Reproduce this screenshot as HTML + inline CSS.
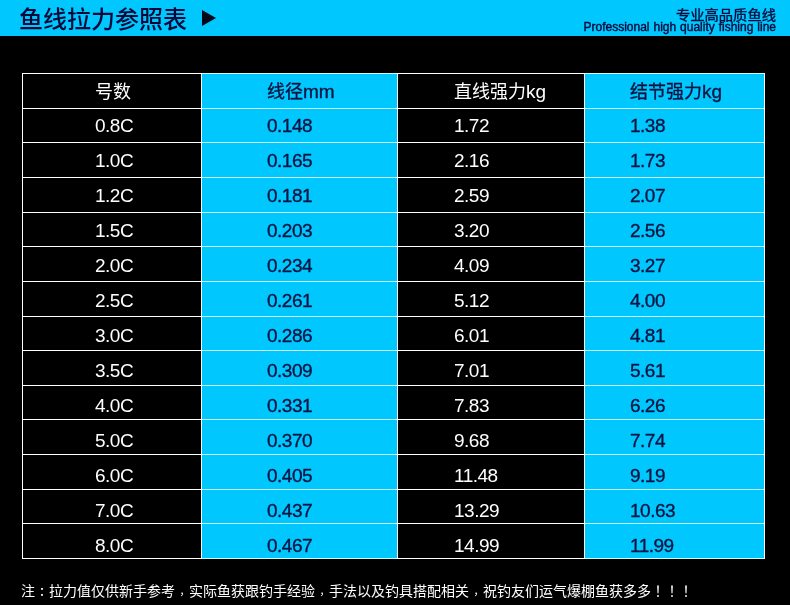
<!DOCTYPE html><html lang="zh-CN"><head><meta charset="utf-8"><title>鱼线拉力参照表</title><style>
*{margin:0;padding:0;box-sizing:border-box}
html,body{width:790px;height:605px;background:#000;overflow:hidden}
body{position:relative;font-family:"Liberation Sans","Noto Sans CJK SC",sans-serif}
.bar{position:absolute;left:0;top:0;width:790px;height:36px;background:#00c8ff}
.title{position:absolute;font-weight:500;left:19px;top:2px;font-size:24px;line-height:32px;color:#04093a;font-family:"Noto Sans CJK SC",sans-serif;white-space:nowrap}
.tri{position:absolute;left:202px;top:10px;width:0;height:0;border-top:8px solid transparent;border-bottom:8px solid transparent;border-left:14px solid #050818}
.zh{position:absolute;right:14px;top:5.5px;font-size:14.3px;line-height:16px;color:#04093a;white-space:nowrap;font-family:"Noto Sans CJK SC",sans-serif;-webkit-text-stroke:0.35px #04093a;transform:scaleY(0.92);transform-origin:50% 50%}
.en{position:absolute;right:14px;top:20px;font-size:12px;line-height:14px;letter-spacing:0px;word-spacing:0.6px;color:#04093a;white-space:nowrap;-webkit-text-stroke:0.4px #04093a}
.bcol{position:absolute;background:#00c8ff}
.h{position:absolute;height:1px;background:#fff}
.v{position:absolute;width:1px;background:#fff}
.c{position:absolute;font-size:19px;line-height:20px;height:20px;letter-spacing:-0.5px;white-space:nowrap}
.c .k{font-size:18px;letter-spacing:0;font-family:"Noto Sans CJK SC",sans-serif}
.w{color:#fff}
.n{color:#0a1340;-webkit-text-stroke:0.35px #0a1340}
.note{position:absolute;left:21px;top:582px;font-size:14px;line-height:16px;color:#fff;white-space:nowrap;font-family:"Noto Sans CJK SC",sans-serif}
.note .p{font-family:"Noto Sans CJK TC",sans-serif;display:inline-block}
.note .cm{transform:translateY(3.5px) scale(0.75)}
.note .cl{transform:translateY(1px) scaleY(0.85)}
</style></head><body>
<div class="bar"></div>
<div class="title">鱼线拉力参照表</div><div class="tri"></div>
<div class="zh">专业高品质鱼线</div><div class="en">Professional high quality fishing line</div>
<div class="bcol" style="left:201px;top:73px;width:196px;height:485px"></div>
<div class="bcol" style="left:584px;top:73px;width:180px;height:485px"></div>
<div class="h" style="left:22px;top:73px;width:180px;background:#fff"></div>
<div class="h" style="left:201px;top:73px;width:197px;background:#c8ffff"></div>
<div class="h" style="left:397px;top:73px;width:188px;background:#fff"></div>
<div class="h" style="left:584px;top:73px;width:181px;background:#c8ffff"></div>
<div class="h" style="left:22px;top:108px;width:180px;background:#fff"></div>
<div class="h" style="left:201px;top:108px;width:197px;background:#c8ffff"></div>
<div class="h" style="left:397px;top:108px;width:188px;background:#fff"></div>
<div class="h" style="left:584px;top:108px;width:181px;background:#c8ffff"></div>
<div class="h" style="left:22px;top:142px;width:180px;background:#fff"></div>
<div class="h" style="left:201px;top:142px;width:197px;background:#c8ffff"></div>
<div class="h" style="left:397px;top:142px;width:188px;background:#fff"></div>
<div class="h" style="left:584px;top:142px;width:181px;background:#c8ffff"></div>
<div class="h" style="left:22px;top:177px;width:180px;background:#fff"></div>
<div class="h" style="left:201px;top:177px;width:197px;background:#c8ffff"></div>
<div class="h" style="left:397px;top:177px;width:188px;background:#fff"></div>
<div class="h" style="left:584px;top:177px;width:181px;background:#c8ffff"></div>
<div class="h" style="left:22px;top:212px;width:180px;background:#fff"></div>
<div class="h" style="left:201px;top:212px;width:197px;background:#c8ffff"></div>
<div class="h" style="left:397px;top:212px;width:188px;background:#fff"></div>
<div class="h" style="left:584px;top:212px;width:181px;background:#c8ffff"></div>
<div class="h" style="left:22px;top:246px;width:180px;background:#fff"></div>
<div class="h" style="left:201px;top:246px;width:197px;background:#c8ffff"></div>
<div class="h" style="left:397px;top:246px;width:188px;background:#fff"></div>
<div class="h" style="left:584px;top:246px;width:181px;background:#c8ffff"></div>
<div class="h" style="left:22px;top:281px;width:180px;background:#fff"></div>
<div class="h" style="left:201px;top:281px;width:197px;background:#c8ffff"></div>
<div class="h" style="left:397px;top:281px;width:188px;background:#fff"></div>
<div class="h" style="left:584px;top:281px;width:181px;background:#c8ffff"></div>
<div class="h" style="left:22px;top:316px;width:180px;background:#fff"></div>
<div class="h" style="left:201px;top:316px;width:197px;background:#c8ffff"></div>
<div class="h" style="left:397px;top:316px;width:188px;background:#fff"></div>
<div class="h" style="left:584px;top:316px;width:181px;background:#c8ffff"></div>
<div class="h" style="left:22px;top:350px;width:180px;background:#fff"></div>
<div class="h" style="left:201px;top:350px;width:197px;background:#c8ffff"></div>
<div class="h" style="left:397px;top:350px;width:188px;background:#fff"></div>
<div class="h" style="left:584px;top:350px;width:181px;background:#c8ffff"></div>
<div class="h" style="left:22px;top:385px;width:180px;background:#fff"></div>
<div class="h" style="left:201px;top:385px;width:197px;background:#c8ffff"></div>
<div class="h" style="left:397px;top:385px;width:188px;background:#fff"></div>
<div class="h" style="left:584px;top:385px;width:181px;background:#c8ffff"></div>
<div class="h" style="left:22px;top:419px;width:180px;background:#fff"></div>
<div class="h" style="left:201px;top:419px;width:197px;background:#c8ffff"></div>
<div class="h" style="left:397px;top:419px;width:188px;background:#fff"></div>
<div class="h" style="left:584px;top:419px;width:181px;background:#c8ffff"></div>
<div class="h" style="left:22px;top:454px;width:180px;background:#fff"></div>
<div class="h" style="left:201px;top:454px;width:197px;background:#c8ffff"></div>
<div class="h" style="left:397px;top:454px;width:188px;background:#fff"></div>
<div class="h" style="left:584px;top:454px;width:181px;background:#c8ffff"></div>
<div class="h" style="left:22px;top:489px;width:180px;background:#fff"></div>
<div class="h" style="left:201px;top:489px;width:197px;background:#c8ffff"></div>
<div class="h" style="left:397px;top:489px;width:188px;background:#fff"></div>
<div class="h" style="left:584px;top:489px;width:181px;background:#c8ffff"></div>
<div class="h" style="left:22px;top:523px;width:180px;background:#fff"></div>
<div class="h" style="left:201px;top:523px;width:197px;background:#c8ffff"></div>
<div class="h" style="left:397px;top:523px;width:188px;background:#fff"></div>
<div class="h" style="left:584px;top:523px;width:181px;background:#c8ffff"></div>
<div class="h" style="left:22px;top:558px;width:180px;background:#fff"></div>
<div class="h" style="left:201px;top:558px;width:197px;background:#c8ffff"></div>
<div class="h" style="left:397px;top:558px;width:188px;background:#fff"></div>
<div class="h" style="left:584px;top:558px;width:181px;background:#c8ffff"></div>
<div class="v" style="left:22px;top:73px;height:486px"></div>
<div class="v" style="left:201px;top:73px;height:486px"></div>
<div class="v" style="left:397px;top:73px;height:486px"></div>
<div class="v" style="left:584px;top:73px;height:486px"></div>
<div class="v" style="left:764px;top:73px;height:486px"></div>
<div class="c w" style="left:95px;top:80px;letter-spacing:0"><span class="k">号数</span></div>
<div class="c n" style="left:267px;top:80px;letter-spacing:0"><span class="k">线径</span>mm</div>
<div class="c w" style="left:454px;top:80px;letter-spacing:0"><span class="k">直线强力</span>kg</div>
<div class="c n" style="left:630px;top:80px;letter-spacing:0"><span class="k">结节强力</span>kg</div>
<div class="c w" style="left:95px;top:116.0px">0.8C</div>
<div class="c n" style="left:267px;top:116.0px">0.148</div>
<div class="c w" style="left:454px;top:116.0px">1.72</div>
<div class="c n" style="left:630px;top:116.0px">1.38</div>
<div class="c w" style="left:95px;top:151.03px">1.0C</div>
<div class="c n" style="left:267px;top:151.03px">0.165</div>
<div class="c w" style="left:454px;top:151.03px">2.16</div>
<div class="c n" style="left:630px;top:151.03px">1.73</div>
<div class="c w" style="left:95px;top:186.06px">1.2C</div>
<div class="c n" style="left:267px;top:186.06px">0.181</div>
<div class="c w" style="left:454px;top:186.06px">2.59</div>
<div class="c n" style="left:630px;top:186.06px">2.07</div>
<div class="c w" style="left:95px;top:221.09px">1.5C</div>
<div class="c n" style="left:267px;top:221.09px">0.203</div>
<div class="c w" style="left:454px;top:221.09px">3.20</div>
<div class="c n" style="left:630px;top:221.09px">2.56</div>
<div class="c w" style="left:95px;top:256.12px">2.0C</div>
<div class="c n" style="left:267px;top:256.12px">0.234</div>
<div class="c w" style="left:454px;top:256.12px">4.09</div>
<div class="c n" style="left:630px;top:256.12px">3.27</div>
<div class="c w" style="left:95px;top:291.15px">2.5C</div>
<div class="c n" style="left:267px;top:291.15px">0.261</div>
<div class="c w" style="left:454px;top:291.15px">5.12</div>
<div class="c n" style="left:630px;top:291.15px">4.00</div>
<div class="c w" style="left:95px;top:326.18px">3.0C</div>
<div class="c n" style="left:267px;top:326.18px">0.286</div>
<div class="c w" style="left:454px;top:326.18px">6.01</div>
<div class="c n" style="left:630px;top:326.18px">4.81</div>
<div class="c w" style="left:95px;top:361.21px">3.5C</div>
<div class="c n" style="left:267px;top:361.21px">0.309</div>
<div class="c w" style="left:454px;top:361.21px">7.01</div>
<div class="c n" style="left:630px;top:361.21px">5.61</div>
<div class="c w" style="left:95px;top:396.24px">4.0C</div>
<div class="c n" style="left:267px;top:396.24px">0.331</div>
<div class="c w" style="left:454px;top:396.24px">7.83</div>
<div class="c n" style="left:630px;top:396.24px">6.26</div>
<div class="c w" style="left:95px;top:431.27px">5.0C</div>
<div class="c n" style="left:267px;top:431.27px">0.370</div>
<div class="c w" style="left:454px;top:431.27px">9.68</div>
<div class="c n" style="left:630px;top:431.27px">7.74</div>
<div class="c w" style="left:95px;top:466.3px">6.0C</div>
<div class="c n" style="left:267px;top:466.3px">0.405</div>
<div class="c w" style="left:454px;top:466.3px">11.48</div>
<div class="c n" style="left:630px;top:466.3px">9.19</div>
<div class="c w" style="left:95px;top:501.33px">7.0C</div>
<div class="c n" style="left:267px;top:501.33px">0.437</div>
<div class="c w" style="left:454px;top:501.33px">13.29</div>
<div class="c n" style="left:630px;top:501.33px">10.63</div>
<div class="c w" style="left:95px;top:536.36px">8.0C</div>
<div class="c n" style="left:267px;top:536.36px">0.467</div>
<div class="c w" style="left:454px;top:536.36px">14.99</div>
<div class="c n" style="left:630px;top:536.36px">11.99</div>
<div class="note">注<span class="p cl" lang="zh-TW">：</span>拉力值仅供新手参考<span class="p cm" lang="zh-TW">，</span>实际鱼获跟钓手经验<span class="p cm" lang="zh-TW">，</span>手法以及钓具搭配相关<span class="p cm" lang="zh-TW">，</span>祝钓友们运气爆棚鱼获多多<span class="p" lang="zh-TW">！</span><span class="p" lang="zh-TW">！</span><span class="p" lang="zh-TW">！</span></div>
</body></html>
